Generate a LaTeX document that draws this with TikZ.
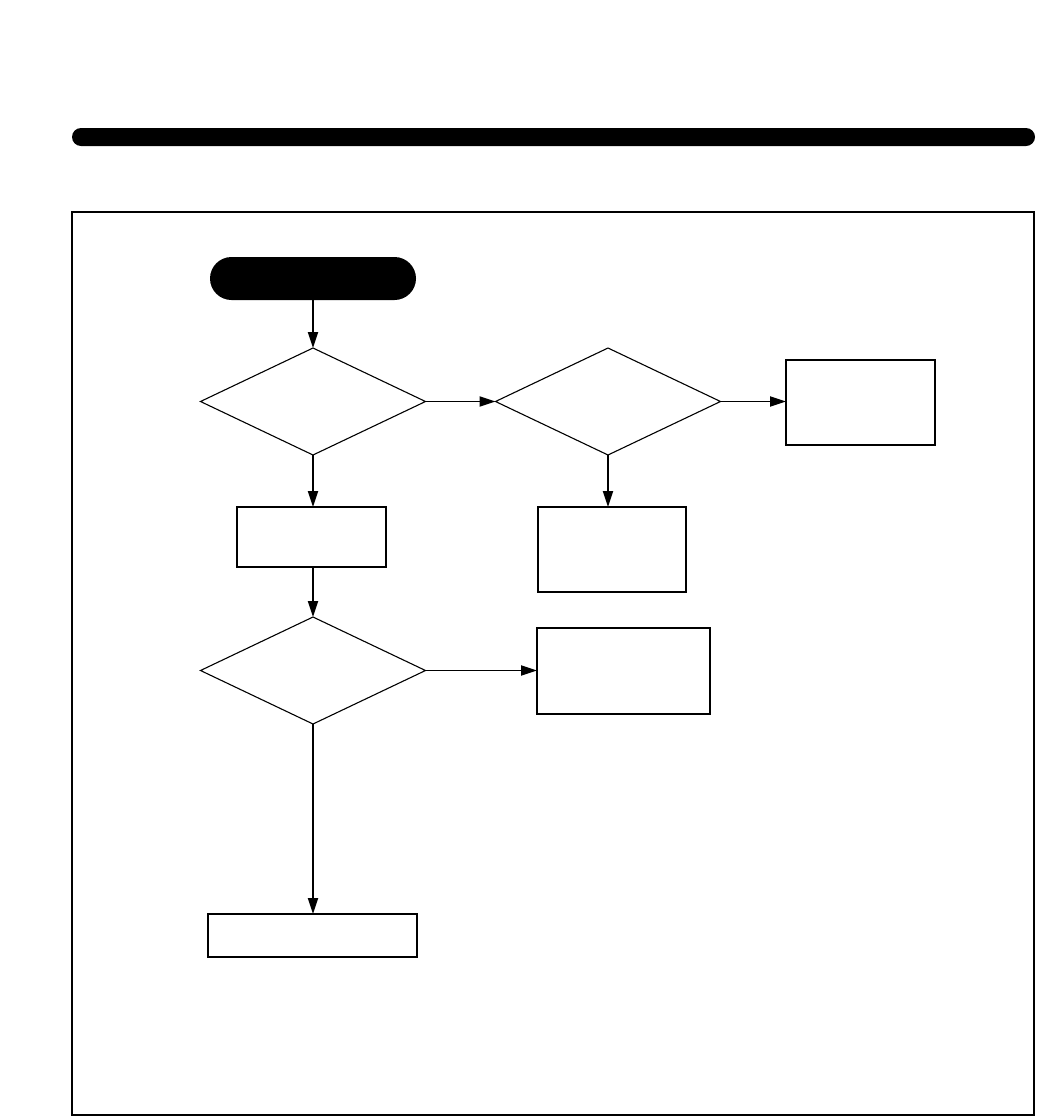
\documentclass[tikz,border=0pt]{standalone}
\usetikzlibrary{shapes.geometric,arrows.meta}
\begin{document}
\begin{tikzpicture}[x=1pt,y=-1pt,
  every node/.style={inner sep=0pt,outer sep=0pt},
  decision/.style={draw,diamond,line width=1.1pt,minimum width=225pt,minimum height=107pt},
  procbox/.style={draw,rectangle,line width=1.1pt},
  flow/.style={line width=1.8pt,-{Triangle[length=16pt,width=10pt]}}
]
\useasboundingbox (0,0) rectangle (1037,1117);
% header bar
\node[fill=black,rounded corners=9pt,minimum width=963pt,minimum height=18pt] (bar) at (553.5,137) {};
% frame
\node[draw,line width=1.3pt,minimum width=962pt,minimum height=903pt] (frame) at (553,663.5) {};
% start terminal
\node[fill=black,rounded corners=21.5pt,minimum width=206pt,minimum height=43pt] (start) at (313,278.5) {};
% decisions
\node[decision] (d1) at (313,401.5) {};
\node[decision] (d2) at (608,401.5) {};
\node[decision] (d3) at (313,670.5) {};
% boxes
\node[procbox,minimum width=149pt,minimum height=85pt] (r1) at (860.5,402.5) {};
\draw[line width=2pt] (r1.north east) -- (r1.south east);
\node[procbox,minimum width=148pt,minimum height=85pt] (b2) at (612,549.5) {};
\node[procbox,minimum width=149pt,minimum height=60pt] (b1) at (311.5,537) {};
\node[procbox,minimum width=173pt,minimum height=86pt] (b3) at (623.5,671) {};
\draw[line width=2pt] (b3.north west) -- (b3.north east);
\node[procbox,minimum width=209pt,minimum height=43pt] (b4) at (312.5,935.5) {};
\draw[line width=2pt] (b4.north west) -- (b4.south west);
% connectors
\draw[flow] (start.south) -- (d1.north);
\draw[flow] (d1.east) -- (d2.west);
\draw[flow] (d2.east) -- (r1.west |- d2.east);
\draw[flow] (d1.south) -- (b1.north -| d1.south);
\draw[flow] (d2.south) -- (b2.north -| d2.south);
\draw[flow] (b1.south -| d3.north) -- (d3.north);
\draw[flow] (d3.east) -- (b3.west |- d3.east);
\draw[flow] (d3.south) -- (b4.north -| d3.south);
\end{tikzpicture}
\end{document}
